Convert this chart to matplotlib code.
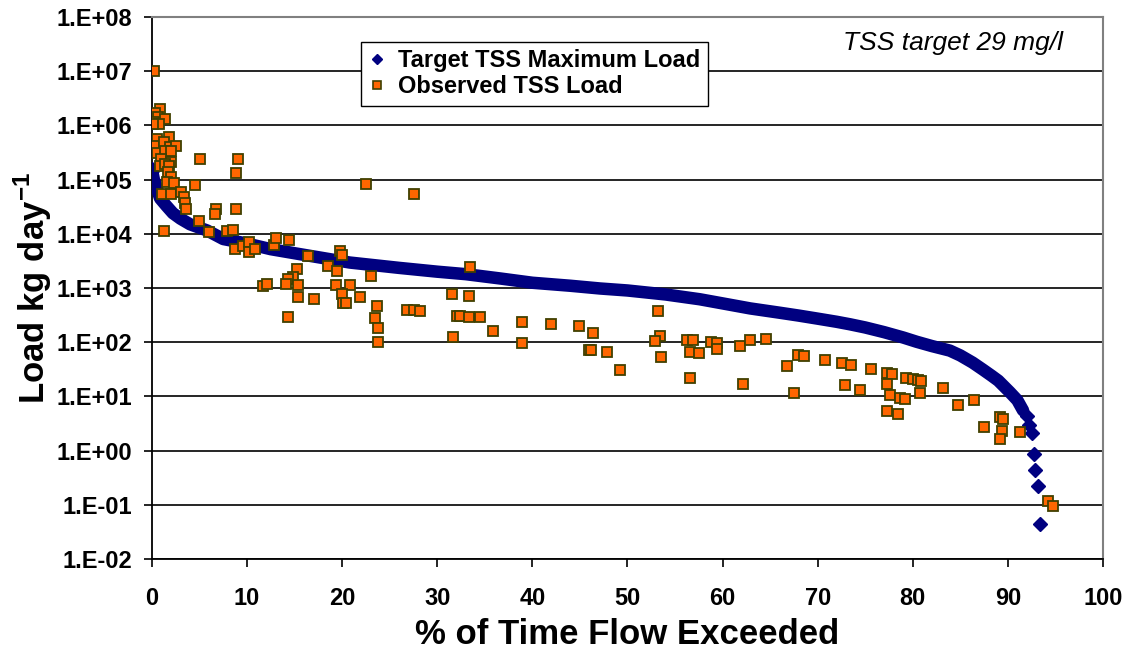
import numpy as np
import matplotlib.pyplot as plt
from matplotlib.lines import Line2D

plt.rcParams['font.family'] = ['Liberation Sans', 'DejaVu Sans']
plt.rcParams['mathtext.fontset'] = 'custom'
plt.rcParams['mathtext.rm'] = 'Liberation Sans'
plt.rcParams['mathtext.bf'] = 'Liberation Sans:bold'

# -----------------------------------------------------------------------------
# data (x = % of time flow exceeded, y = load kg/day)
# -----------------------------------------------------------------------------

# target TSS maximum load: continuous part of the curve
target_x = [0.0, 0.2, 0.5, 0.85, 1.5, 2.2, 3.0, 4.0, 5.8, 7.5, 10, 12.5, 15.6,
            20.8, 26, 30, 33, 36.6, 40, 44, 47.1, 50, 54, 57.6, 60, 62.9, 66,
            68, 70, 72, 73.4, 75, 77, 79, 80.4, 82, 83.9, 85, 86.3, 87.4, 88.3,
            89, 90.2, 91.0, 91.6]
target_y = [1.5e5, 1.0e5, 7e4, 4.5e4, 3.3e4, 2.4e4, 1.9e4, 1.5e4, 1.15e4, 8e3,
            6.6e3, 5.2e3, 4.2e3, 2.95e3, 2.35e3, 2.0e3, 1.8e3, 1.5e3, 1.25e3,
            1.1e3, 980, 900, 760, 620, 520, 420, 350, 310, 272, 238, 214, 187,
            153, 122, 102, 85, 70, 57, 42, 31, 24, 19.5, 12, 8.5, 5.5]

# target TSS maximum load: separate diamonds in the low-flow tail
tail_x = [92.0, 92.2, 92.5, 92.7, 92.9, 93.2, 93.4]
tail_y = [4.4, 3.0, 2.1, 0.87, 0.44, 0.22, 0.045]

# observed TSS load
obs_x = [0.18, 0.81, 0.28, 0.63, 1.40, 0.21, 0.70, 0.10, 0.53, 1.76,
         0.18, 1.23, 1.86, 2.5, 0.53, 1.4, 2.03, 5.09, 0.98, 2.03,
         0.81, 1.34, 1.79, 1.69, 2.03, 1.58, 2.29, 4.56, 1.05, 1.97,
         3.02, 3.34, 3.51, 3.62, 4.92, 1.23, 9.03, 8.88, 6.78, 6.64,
         8.85, 6.04, 7.94, 8.57, 8.75, 9.55, 10.15, 10.22, 10.78, 12.78,
         13.03, 14.4, 16.4, 19.8, 20.0, 18.5, 19.5, 23.0, 15.3, 14.8,
         14.3, 14.1, 15.35, 11.66, 12.08, 19.4, 20.8, 15.35, 17.0, 20.0,
         20.1, 20.4, 21.9, 23.7, 23.5, 23.8, 23.8, 14.3, 26.8, 27.5,
         28.2, 31.6, 31.7, 32.1, 32.4, 33.3, 33.3, 33.4, 22.5, 27.5,
         34.5, 35.9, 38.9, 38.9, 42.0, 44.9, 46.4, 46.0, 46.2, 47.9,
         49.2, 53.2, 53.4, 52.9, 53.5, 56.3, 56.9, 56.6, 57.5, 56.6,
         58.8, 59.4, 59.4, 61.8, 62.2, 62.9, 64.6, 66.8, 67.9, 68.6,
         67.5, 70.8, 72.6, 73.5, 72.9, 74.4, 75.6, 77.3, 77.8, 77.3,
         77.6, 77.3, 78.5, 78.7, 79.2, 79.3, 80.0, 80.5, 80.9, 80.8,
         83.2, 84.8, 86.4, 87.5, 89.2, 89.5, 89.4, 89.2, 91.3, 94.2,
         94.7]
obs_y = [1.0e7, 2.0e6, 1.7e6, 1.4e6, 1.3e6, 1.17e6, 1.07e6, 1.05e6, 5.7e5, 6.1e5,
         4.2e5, 5.0e5, 4.0e5, 4.2e5, 3.1e5, 3.4e5, 3.4e5, 2.4e5, 2.4e5, 2.1e5,
         1.8e5, 1.9e5, 1.8e5, 1.4e5, 1.1e5, 9e4, 8.5e4, 7.8e4, 5.5e4, 5.5e4,
         6e4, 4.8e4, 3.7e4, 2.9e4, 1.7e4, 1.15e4, 2.4e5, 1.3e5, 2.9e4, 2.3e4,
         2.9e4, 1.1e4, 1.15e4, 1.2e4, 5.2e3, 5.9e3, 7.1e3, 4.6e3, 5.2e3, 6.3e3,
         8.5e3, 7.6e3, 3.9e3, 4.8e3, 4.1e3, 2.5e3, 2.1e3, 1.7e3, 2.2e3, 1.6e3,
         1.45e3, 1.2e3, 1.12e3, 1.08e3, 1.2e3, 1.12e3, 1.15e3, 690, 630, 760,
         520, 520, 680, 460, 275, 185, 100, 290, 400, 385,
         370, 780, 124, 310, 310, 295, 720, 2.4e3, 8.2e4, 5.5e4,
         290, 163, 240, 96, 215, 195, 145, 72, 72, 67,
         31, 370, 132, 105, 53, 110, 110, 65, 63, 22,
         100, 96, 76, 84, 16.6, 112, 115, 37, 59, 56,
         11.7, 47, 42, 38, 16.3, 13.3, 32, 27, 26, 17,
         10.5, 5.3, 4.7, 9.4, 8.9, 22, 21, 20, 19, 11.5,
         14.5, 6.8, 8.5, 2.7, 4.1, 3.8, 2.3, 1.66, 2.16, 0.117,
         0.095]

y_ticks = [1e-2, 1e-1, 1e0, 1e1, 1e2, 1e3, 1e4, 1e5, 1e6, 1e7, 1e8]
y_tick_labels = ['1.E-02', '1.E-01', '1.E+00', '1.E+01', '1.E+02', '1.E+03',
                 '1.E+04', '1.E+05', '1.E+06', '1.E+07', '1.E+08']

navy = '#000080'
orange = '#ff6600'
edge = '#404000'

fig = plt.figure(figsize=(11.25, 6.51), dpi=100)
ax = fig.add_axes([0.1351, 0.1413, 0.8453, 0.8326])

# target curve: thick band of diamonds, drawn as a heavy line + tail diamonds
ax.plot(target_x, target_y, color=navy, lw=9, solid_capstyle='round',
        solid_joinstyle='round', zorder=3)
ax.plot(target_x[:1], target_y[:1], 'D', color=navy, ms=8, zorder=3)
ax.plot(tail_x, tail_y, 'D', color=navy, ms=7.5, lw=0, zorder=3)

ax.plot(obs_x, obs_y, 's', color=orange, mec=edge, mew=1.3, ms=6.5, lw=0, zorder=4)

ax.set_yscale('log')
ax.set_xlim(0, 100)
ax.set_ylim(1e-2, 1e8)
ax.set_xticks(range(0, 101, 10))
ax.set_yticks(y_ticks)
ax.set_yticklabels(y_tick_labels)
ax.yaxis.set_minor_locator(plt.NullLocator())

ax.grid(axis='y', which='major', color='black', lw=1.2, zorder=1)
ax.set_axisbelow(True)
for s in ['top', 'right']:
    ax.spines[s].set_color('#808080')
    ax.spines[s].set_linewidth(1.5)
for s in ['left', 'bottom']:
    ax.spines[s].set_color('black')
    ax.spines[s].set_linewidth(1.3)

ax.tick_params(axis='both', direction='out', length=6, width=1.2, color='black',
               labelsize=17)
ax.tick_params(axis='x', pad=14)
ax.tick_params(axis='y', pad=8)
for lab in ax.get_xticklabels() + ax.get_yticklabels():
    lab.set_fontweight('bold')

ax.set_xlabel('% of Time Flow Exceeded', fontsize=25, fontweight='bold', labelpad=6)
ax.set_ylabel('Load kg day$^{\\mathbf{-1}}$', fontsize=25, fontweight='bold', labelpad=2)

ax.text(0.842, 0.952, 'TSS target 29 mg/l', transform=ax.transAxes, fontsize=19,
        style='italic', ha='center', va='center')

handles = [
    Line2D([], [], marker='D', color=navy, lw=0, ms=5),
    Line2D([], [], marker='s', color=orange, mec=edge, mew=1.2, lw=0, ms=5.5),
]
leg = ax.legend(handles, ['Target TSS Maximum Load', 'Observed TSS Load'],
                loc='upper left', bbox_to_anchor=(0.207, 0.976), fancybox=False,
                framealpha=1, edgecolor='black', handlelength=0.8,
                handletextpad=0.5, borderpad=0.3, labelspacing=0.15,
                prop={'size': 17, 'weight': 'bold'})
leg.get_frame().set_linewidth(1.0)
leg.set_zorder(5)

fig.savefig('out.png', dpi=100)
